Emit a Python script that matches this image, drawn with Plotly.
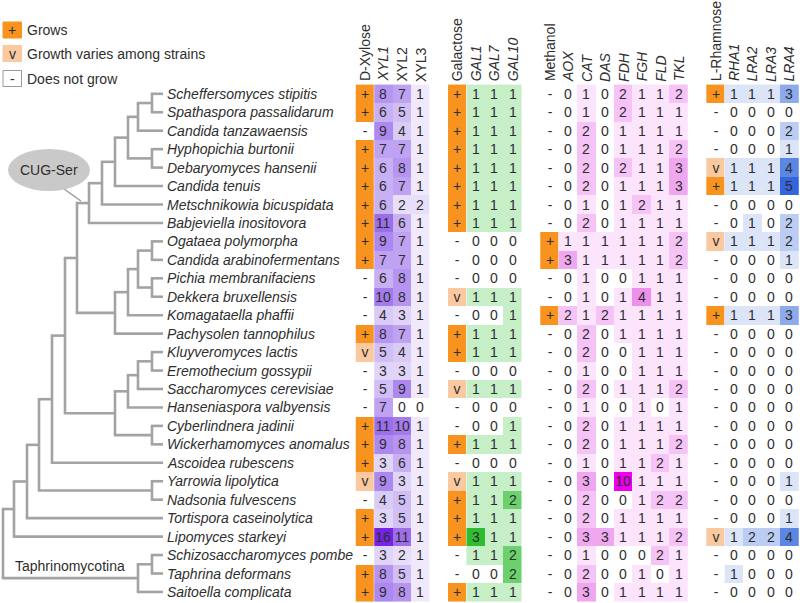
import plotly.graph_objects as go

# ---------------- data ----------------
species = ["Scheffersomyces stipitis", "Spathaspora passalidarum", "Candida tanzawaensis",
           "Hyphopichia burtonii", "Debaryomyces hansenii", "Candida tenuis",
           "Metschnikowia bicuspidata", "Babjeviella inositovora", "Ogataea polymorpha",
           "Candida arabinofermentans", "Pichia membranifaciens", "Dekkera bruxellensis",
           "Komagataella phaffii", "Pachysolen tannophilus", "Kluyveromyces lactis",
           "Eremothecium gossypii", "Saccharomyces cerevisiae", "Hanseniaspora valbyensis",
           "Cyberlindnera jadinii", "Wickerhamomyces anomalus", "Ascoidea rubescens",
           "Yarrowia lipolytica", "Nadsonia fulvescens", "Tortispora caseinolytica",
           "Lipomyces starkeyi", "Schizosaccharomyces pombe", "Taphrina deformans",
           "Saitoella complicata"]

d_xylose = list("++-+++++++---+v---+++v-++-++")
galactose = list("++++++++---v-++-v--+-v+++--+")
methanol = list("--------++--+---------------")
rhamnose = list("+---v+--v---+-----------v---")

XYL1 = [8, 6, 9, 7, 6, 6, 6, 11, 9, 7, 6, 10, 4, 8, 5, 3, 5, 7, 11, 9, 3, 9, 4, 3, 16, 3, 8, 9]
XYL2 = [7, 5, 4, 7, 8, 7, 2, 6, 7, 7, 8, 8, 3, 7, 4, 3, 9, 0, 10, 8, 6, 3, 5, 5, 11, 2, 5, 8]
XYL3 = [1, 1, 1, 1, 1, 1, 2, 1, 1, 1, 1, 1, 1, 1, 1, 1, 1, 0, 1, 1, 1, 1, 1, 1, 1, 1, 1, 1]

GAL1 = [1, 1, 1, 1, 1, 1, 1, 1, 0, 0, 0, 1, 0, 1, 1, 0, 1, 0, 0, 1, 0, 1, 1, 1, 3, 1, 0, 1]
GAL7 = [1, 1, 1, 1, 1, 1, 1, 1, 0, 0, 0, 1, 0, 1, 1, 0, 1, 0, 0, 1, 0, 1, 1, 1, 1, 1, 0, 1]
GAL10 = [1, 1, 1, 1, 1, 1, 1, 1, 0, 0, 0, 1, 1, 1, 1, 0, 1, 0, 1, 1, 0, 1, 2, 1, 1, 2, 2, 1]

AOX = [0, 0, 0, 0, 0, 0, 0, 0, 1, 3, 0, 0, 2, 0, 0, 0, 0, 0, 0, 0, 0, 0, 0, 0, 0, 0, 0, 0]
CAT = [1, 1, 2, 2, 2, 2, 1, 2, 1, 1, 1, 1, 1, 2, 2, 1, 2, 1, 2, 2, 1, 3, 2, 2, 3, 1, 2, 3]
DAS = [0, 0, 0, 0, 0, 0, 0, 0, 1, 1, 0, 0, 2, 0, 0, 0, 0, 0, 0, 0, 0, 0, 0, 0, 3, 0, 0, 0]
FDH = [2, 2, 1, 1, 2, 1, 1, 1, 1, 1, 0, 1, 1, 1, 0, 0, 1, 0, 1, 1, 1, 10, 0, 1, 1, 0, 0, 1]
FGH = [1, 1, 1, 1, 1, 1, 2, 1, 1, 1, 1, 4, 1, 1, 1, 1, 1, 1, 1, 1, 1, 1, 1, 1, 1, 0, 1, 1]
FLD = [1, 1, 1, 1, 1, 1, 1, 1, 1, 1, 1, 1, 1, 1, 1, 1, 1, 0, 1, 1, 2, 1, 2, 1, 1, 2, 0, 1]
TKL = [2, 1, 1, 2, 3, 3, 1, 1, 2, 2, 1, 1, 1, 1, 1, 1, 2, 1, 1, 2, 1, 1, 2, 1, 2, 1, 1, 1]

RHA1 = [1, 0, 0, 0, 1, 1, 0, 0, 1, 0, 0, 0, 1, 0, 0, 0, 0, 0, 0, 0, 0, 0, 0, 0, 1, 0, 1, 0]
LRA2 = [1, 0, 0, 0, 1, 1, 0, 1, 1, 0, 0, 0, 1, 0, 0, 0, 0, 0, 0, 0, 0, 0, 0, 0, 2, 0, 0, 0]
LRA3 = [1, 0, 0, 0, 1, 1, 0, 0, 1, 0, 0, 0, 1, 0, 0, 0, 0, 0, 0, 0, 0, 0, 0, 0, 2, 0, 0, 0]
LRA4 = [3, 0, 2, 1, 4, 5, 0, 2, 2, 1, 0, 0, 3, 0, 0, 0, 0, 0, 0, 0, 0, 1, 0, 1, 4, 0, 0, 0]

legend_items = [("+", "Grows"), ("v", "Growth varies among strains"), ("-", "Does not grow")]

# tree topology: node -> children (ints = leaf rows)
tree_children = {
    "A": [0, 1], "B": ["A", 2], "C": [3, 4], "D": ["B", "C"], "E": ["D", 5],
    "F": ["E", 6], "G": ["F", 7],
    "H": [8, 9], "I": [10, 11], "J": ["H", "I"], "K": ["J", 12], "L": ["K", 13],
    "M": ["G", "L"],
    "N": [14, 15], "O": ["N", 16], "P": ["O", 17], "Q": [18, 19], "R": ["P", "Q"],
    "S": ["M", "R"], "T": ["S", 20], "U": [21, 22], "V": ["T", "U"], "W": ["V", 23],
    "X": ["W", 24], "Y": [25, 26], "Z": ["Y", 27], "ROOT": ["X", "Z"],
}

# ---------------- layout ----------------
W, H = 800, 603
FONT = "Arial, Liberation Sans, sans-serif"
TXT = "#2e2e2e"
X0, STEP, Y0 = 365.0, 18.45, 93.8
node_x = {"A": 152, "B": 138, "C": 152, "D": 128, "E": 115, "F": 102, "G": 89,
          "H": 152, "I": 152, "J": 138, "K": 128, "L": 115, "M": 77,
          "N": 152, "O": 138, "P": 128, "Q": 152, "R": 115, "S": 65, "T": 52,
          "U": 152, "V": 39, "W": 27, "X": 14, "Y": 152, "Z": 138, "ROOT": 3}
LEAF_X = 163
TREE_COLOR = "#a3a3a3"


def col_x(slot):
    return X0 + STEP * slot


def row_y(i):
    return Y0 + STEP * i


n = len(species)
y_edges = [row_y(i - 0.5) for i in range(n + 1)]

fig = go.Figure()

ORANGE, LIGHT_OR = "#f7931e", "#fbc9a0"
growth_scale = [[0, "#ffffff"], [0.25, "#ffffff"], [0.25, LIGHT_OR], [0.75, LIGHT_OR],
                [0.75, ORANGE], [1, ORANGE]]
gcode = {"-": 0, "v": 1, "+": 2}


def add_growth(slot, col):
    fig.add_trace(go.Heatmap(
        z=[[gcode[c]] for c in col], x=[col_x(slot - 0.5), col_x(slot + 0.5)], y=y_edges,
        colorscale=growth_scale, zmin=0, zmax=2, showscale=False,
        text=[[c] for c in col], texttemplate="%{text}",
        textfont=dict(size=14, color=TXT, family=FONT), hoverinfo="skip"))


def add_block(first_slot, cols, colorscale, zmax):
    z = [[c[i] for c in cols] for i in range(n)]
    text = [[str(c[i]) for c in cols] for i in range(n)]
    x_edges = [col_x(first_slot - 0.5 + k) for k in range(len(cols) + 1)]
    fig.add_trace(go.Heatmap(
        z=z, x=x_edges, y=y_edges, colorscale=colorscale, zmin=0, zmax=zmax,
        showscale=False, text=text, texttemplate="%{text}",
        textfont=dict(size=14, color=TXT, family=FONT), hoverinfo="skip"))


purple = [[0, "#ffffff"], [1 / 16, "#efe9fb"], [4 / 16, "#d8cbf6"], [8 / 16, "#b695f0"],
          [11 / 16, "#9c6eea"], [1, "#7424e2"]]
green = [[0, "#ffffff"], [1 / 3, "#c7efc7"], [2 / 3, "#6cd16c"], [1, "#2fbd2f"]]
pink = [[0, "#ffffff"], [0.1, "#fce4fc"], [0.2, "#f5c3f5"], [0.3, "#efa8ef"],
        [0.4, "#ec90ec"], [1, "#ee00ee"]]
blue = [[0, "#ffffff"], [0.2, "#dce5f8"], [0.4, "#bccdf3"], [0.6, "#8caaec"],
        [0.8, "#5c86e4"], [1, "#3366dd"]]

add_growth(0, d_xylose)
add_block(1, [XYL1, XYL2, XYL3], purple, 16)
add_growth(5, galactose)
add_block(6, [GAL1, GAL7, GAL10], green, 3)
add_growth(10, methanol)
add_block(11, [AOX, CAT, DAS, FDH, FGH, FLD, TKL], pink, 10)
add_growth(19, rhamnose)
add_block(20, [RHA1, LRA2, LRA3, LRA4], blue, 5)

# ---------------- tree ----------------
node_y = {}


def get_y(c):
    if isinstance(c, int):
        return row_y(c)
    if c not in node_y:
        ys = [get_y(k) for k in tree_children[c]]
        node_y[c] = sum(ys) / len(ys)
    return node_y[c]


def get_x(c):
    return LEAF_X if isinstance(c, int) else node_x[c]


tx, ty = [], []
for name, kids in tree_children.items():
    nx = node_x[name]
    ys = [get_y(k) for k in kids]
    tx += [nx, nx, None]
    ty += [min(ys), max(ys), None]
    for k in kids:
        ky = get_y(k)
        tx += [nx - 1.2, get_x(k), None]
        ty += [ky, ky, None]

fig.add_trace(go.Scatter(x=tx, y=ty, mode="lines", line=dict(color=TREE_COLOR, width=2.6),
                         hoverinfo="skip", showlegend=False))

annotations = []
for i, s in enumerate(species):
    annotations.append(dict(x=LEAF_X + 2, y=row_y(i), text=f"<i>{s}</i>", showarrow=False,
                            xanchor="left", yanchor="middle",
                            font=dict(size=14, color=TXT, family=FONT)))

# ---------------- headers ----------------
headers = [(0, "D-Xylose"), (1, "<i>XYL1</i>"), (2, "XYL2"), (3, "XYL3"),
           (5, "Galactose"), (6, "<i>GAL1</i>"), (7, "<i>GAL7</i>"), (8, "<i>GAL10</i>"),
           (10, "Methanol"), (11, "<i>AOX</i>"), (12, "<i>CAT</i>"), (13, "<i>DAS</i>"),
           (14, "<i>FDH</i>"), (15, "<i>FGH</i>"), (16, "<i>FLD</i>"), (17, "<i>TKL</i>"),
           (19, "L-Rhamnose"), (20, "<i>RHA1</i>"), (21, "<i>LRA2</i>"), (22, "<i>LRA3</i>"),
           (23, "<i>LRA4</i>")]
for slot, h in headers:
    annotations.append(dict(x=col_x(slot), y=row_y(-0.5) - 1, text=h, textangle=-90,
                            showarrow=False, xanchor="center", yanchor="bottom",
                            font=dict(size=14, color=TXT, family=FONT)))

# ---------------- legend ----------------
shapes = []
leg_y = [30, 53.5, 78.5]
leg_fill = {"+": ORANGE, "v": LIGHT_OR, "-": "#ffffff"}
for (sym, label), yc in zip(legend_items, leg_y):
    shapes.append(dict(type="rect", xref="x", yref="y", x0=3, x1=21.5, y0=yc - 8, y1=yc + 8,
                       fillcolor=leg_fill[sym],
                       line=dict(color="#9a9a9a" if sym == "-" else leg_fill[sym], width=1)))
    annotations.append(dict(x=12.2, y=yc, text=sym, showarrow=False, xanchor="center",
                            yanchor="middle", font=dict(size=14, color=TXT, family=FONT)))
    annotations.append(dict(x=25, y=yc, text=label, showarrow=False, xanchor="left",
                            yanchor="middle", font=dict(size=14, color=TXT, family=FONT)))

# CUG-Ser callout
shapes.append(dict(type="line", xref="x", yref="y", x0=64, y0=189, x1=81, y1=201,
                   line=dict(color="#9a9a9a", width=1.5)))
shapes.append(dict(type="circle", xref="x", yref="y", x0=8, x1=90, y0=149, y1=191,
                   fillcolor="#c9c9c9", line=dict(width=0)))
annotations.append(dict(x=49, y=170, text="CUG-Ser", showarrow=False, xanchor="center",
                        yanchor="middle", font=dict(size=14, color=TXT, family=FONT)))
annotations.append(dict(x=70, y=566, text="Taphrinomycotina", showarrow=False,
                        xanchor="center", yanchor="middle",
                        font=dict(size=14, color=TXT, family=FONT)))

fig.update_layout(
    width=W, height=H, margin=dict(l=0, r=0, t=0, b=0),
    paper_bgcolor="white", plot_bgcolor="white", showlegend=False,
    xaxis=dict(range=[0, W], visible=False, fixedrange=True),
    yaxis=dict(range=[H, 0], visible=False, fixedrange=True),
    annotations=annotations, shapes=shapes,
)

fig.write_html("out.html", config={"displayModeBar": False, "staticPlot": True},
               post_script="document.body.style.margin='0px';"
                           "document.body.style.overflow='hidden';")
